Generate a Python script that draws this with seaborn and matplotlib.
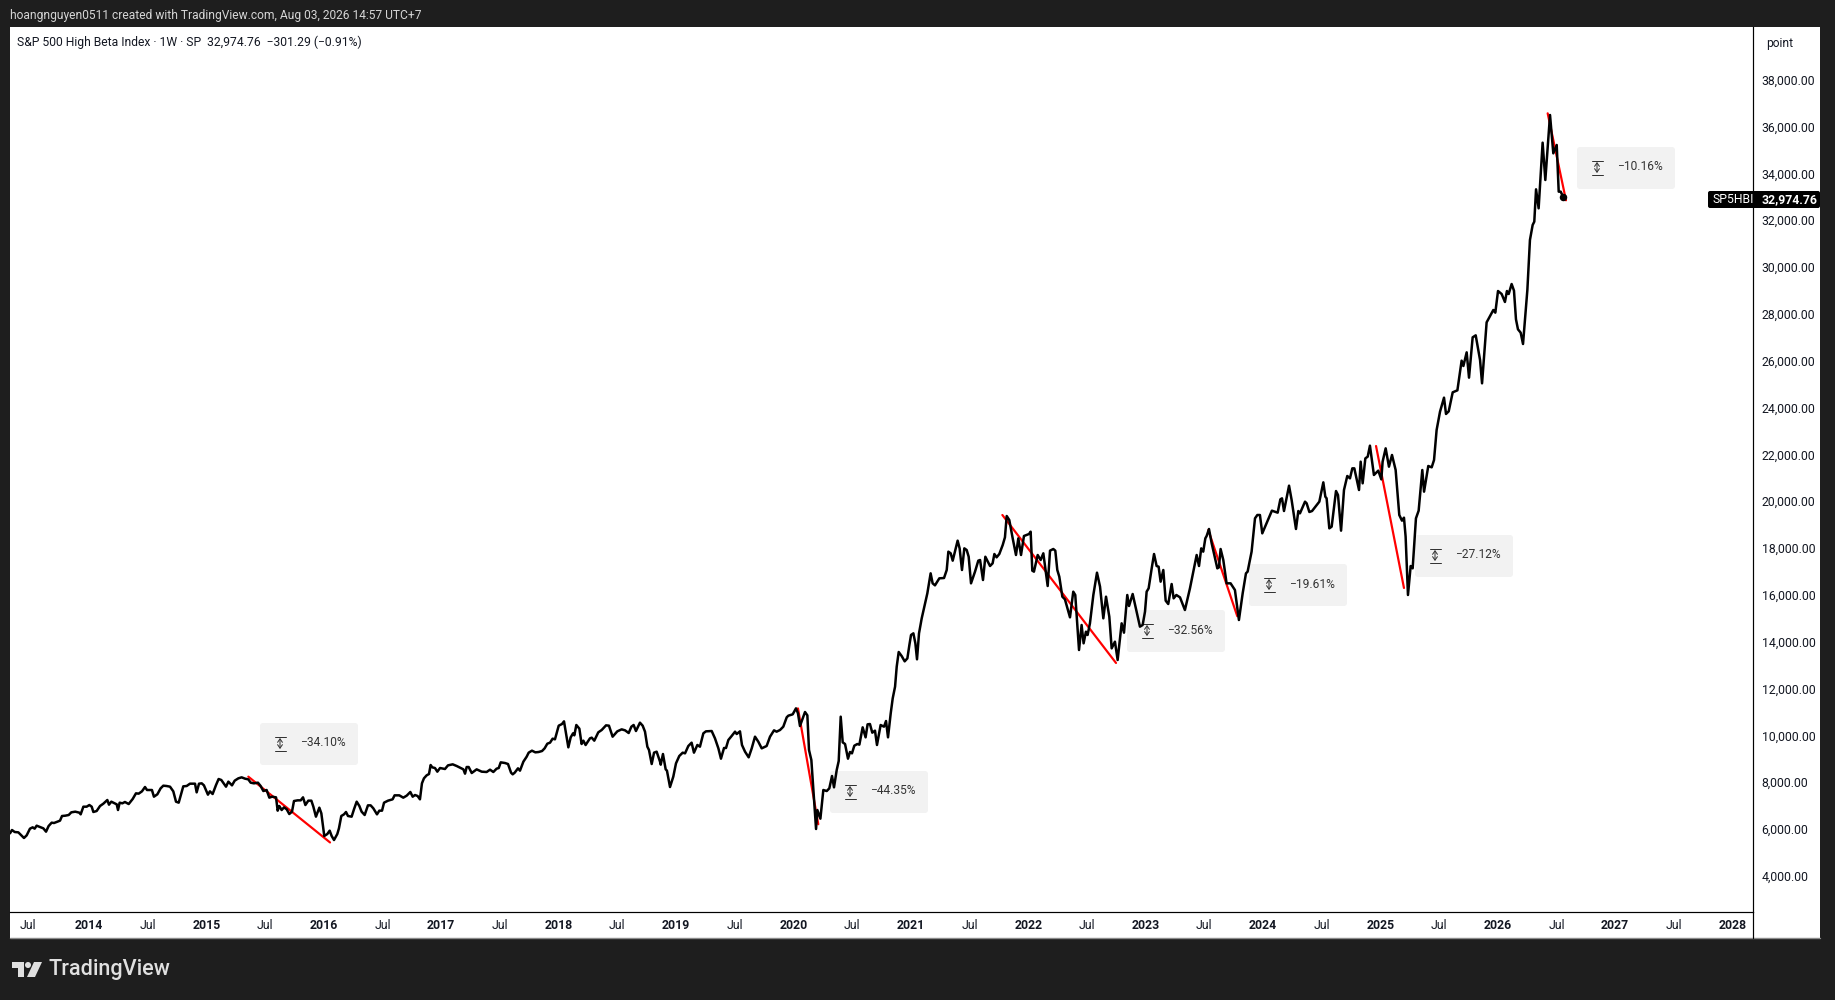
import matplotlib
matplotlib.use("Agg")
import matplotlib.pyplot as plt
from matplotlib.patches import FancyBboxPatch, Rectangle, Polygon, Circle
from matplotlib.lines import Line2D
from matplotlib.transforms import Affine2D
import pandas as pd
import seaborn as sns

# ---------- data ----------
year_2013_14 = [2013.327,2013.344,2013.367,2013.398,2013.424,2013.446,2013.469,2013.497,2013.520,2013.537,2013.554,2013.583,2013.611,2013.634,2013.656,2013.682,2013.702,2013.725,2013.753,2013.770,2013.798,2013.827,2013.849,2013.883,2013.918,2013.929,2013.952,2013.980,2014.003,2014.023,2014.037,2014.065,2014.094,2014.122,2014.156,2014.170,2014.190,2014.218,2014.236,2014.247,2014.261,2014.284,2014.306,2014.338,2014.372,2014.400,2014.423,2014.451,2014.477,2014.494,2014.536,2014.553,2014.582,2014.610,2014.633,2014.661,2014.690,2014.718,2014.741,2014.764,2014.786,2014.803,2014.832,2014.860,2014.903,2014.917,2014.937,2014.960,2014.979]
close_2013_14 = [5816,5958,5873,5858,5730,5617,5730,6015,6072,6015,6143,6086,6029,5887,6129,6271,6257,6300,6357,6556,6570,6599,6712,6741,6698,6627,6954,6954,7025,6954,6727,6769,6983,7082,7239,7040,7168,7097,7054,6812,7125,7097,7154,7068,7282,7524,7510,7609,7794,7666,7666,7381,7481,7737,7851,7837,7808,7609,7168,7125,7524,7823,7837,7936,7936,7566,7936,7951,7865]

year_2015_16 = [2015.013,2015.030,2015.053,2015.082,2015.104,2015.127,2015.167,2015.187,2015.218,2015.241,2015.272,2015.300,2015.329,2015.357,2015.377,2015.405,2015.439,2015.462,2015.485,2015.513,2015.536,2015.559,2015.593,2015.607,2015.621,2015.641,2015.661,2015.684,2015.706,2015.729,2015.746,2015.777,2015.803,2015.823,2015.843,2015.868,2015.894,2015.911,2015.933,2015.962,2015.979,2016.004,2016.030,2016.050,2016.067,2016.087,2016.115,2016.129,2016.149,2016.172,2016.189,2016.206,2016.237,2016.257,2016.280,2016.303,2016.322,2016.348,2016.376,2016.399,2016.422,2016.453,2016.473,2016.496,2016.513,2016.547,2016.586,2016.603,2016.643,2016.677,2016.706,2016.737,2016.757,2016.777,2016.799,2016.819,2016.836,2016.853,2016.876,2016.896,2016.910,2016.924,2016.947,2016.967,2016.990]
close_2015_16 = [7467,7609,7495,7880,8136,8093,7808,8022,7865,8065,8164,8207,8150,8121,7979,7951,7979,7837,7623,7666,7339,7381,7353,6784,6983,6812,6926,6841,6641,6741,7196,7225,7225,7353,7025,7211,7211,6954,6527,6912,6670,5702,5787,5930,5702,5531,5787,6029,6556,6627,6727,6556,6527,6841,7168,6983,6741,6599,7011,7011,6883,6627,6784,6784,7125,7211,7268,7438,7438,7339,7424,7581,7381,7452,7410,7268,7951,8164,8292,8349,8733,8634,8605,8449,8605]

year_2017_18 = [2017.032,2017.058,2017.098,2017.132,2017.160,2017.189,2017.203,2017.217,2017.234,2017.260,2017.302,2017.345,2017.387,2017.416,2017.444,2017.472,2017.490,2017.507,2017.543,2017.569,2017.595,2017.609,2017.626,2017.654,2017.671,2017.700,2017.728,2017.745,2017.773,2017.802,2017.830,2017.859,2017.881,2017.904,2017.927,2017.949,2017.969,2018.001,2018.029,2018.046,2018.063,2018.083,2018.103,2018.123,2018.134,2018.151,2018.177,2018.196,2018.211,2018.230,2018.267,2018.282,2018.304,2018.338,2018.367,2018.404,2018.429,2018.460,2018.500,2018.537,2018.566,2018.597,2018.620,2018.639,2018.659,2018.693,2018.716,2018.736,2018.756,2018.770,2018.793,2018.813,2018.835,2018.864,2018.870,2018.889,2018.912,2018.923,2018.949,2018.977]
close_2017_18 = [8563,8719,8762,8691,8620,8548,8363,8648,8648,8392,8548,8449,8435,8534,8435,8577,8605,8847,8819,8776,8406,8335,8406,8591,8492,8876,9089,9260,9346,9274,9289,9331,9445,9644,9687,9858,9830,10413,10484,10598,10086,9488,9915,10086,10000,10442,10285,9630,9773,9587,9872,9901,9773,10128,10228,10427,10413,9943,10171,10256,10214,10100,10370,10442,10185,10541,10413,10157,9516,9374,8776,9260,9303,8876,8748,9203,8549,8492,7794,8236]

year_2019_20 = [2019.000,2019.028,2019.057,2019.077,2019.105,2019.133,2019.153,2019.182,2019.204,2019.233,2019.255,2019.304,2019.332,2019.361,2019.383,2019.409,2019.426,2019.446,2019.474,2019.503,2019.517,2019.545,2019.562,2019.588,2019.619,2019.645,2019.673,2019.701,2019.730,2019.772,2019.801,2019.835,2019.857,2019.886,2019.914,2019.943,2019.957,2019.994,2020.022,2020.039,2020.056,2020.079,2020.099,2020.119,2020.133,2020.153,2020.170,2020.193,2020.204,2020.230,2020.255,2020.284,2020.306,2020.329,2020.346,2020.369,2020.386,2020.403,2020.420,2020.440,2020.465,2020.482,2020.499,2020.519,2020.545,2020.562,2020.590,2020.615,2020.632,2020.652,2020.672,2020.695,2020.712,2020.743,2020.772,2020.789,2020.806,2020.829,2020.846,2020.866,2020.880,2020.897,2020.922,2020.948,2020.971,2020.988]
close_2019_20 = [8805,9118,9260,9232,9545,9687,9260,9588,9516,10086,10171,10185,9872,9445,9004,9460,9460,9801,9972,10157,10057,10171,9588,9303,9061,9445,9943,9730,9445,9545,9943,10214,10157,10228,10370,10769,10840,10897,11153,10940,10399,10726,10997,10854,9374,8947,7666,6001,6812,6442,7666,7623,7737,8264,7780,8520,8904,10797,9701,9630,9004,9289,9232,9559,9630,9602,10342,9915,10470,10484,10114,10200,9588,10441,10370,10612,9915,10940,11580,12078,12932,13559,13388,13160,13288,13858]

year_2021_22 = [2021.002,2021.022,2021.039,2021.053,2021.070,2021.093,2021.115,2021.141,2021.169,2021.186,2021.206,2021.243,2021.283,2021.306,2021.320,2021.340,2021.357,2021.399,2021.416,2021.436,2021.456,2021.476,2021.493,2021.513,2021.547,2021.575,2021.590,2021.615,2021.635,2021.675,2021.697,2021.712,2021.731,2021.754,2021.783,2021.802,2021.817,2021.839,2021.868,2021.896,2021.916,2021.939,2021.964,2022.007,2022.021,2022.035,2022.049,2022.081,2022.106,2022.129,2022.166,2022.186,2022.214,2022.231,2022.248,2022.265,2022.291,2022.313,2022.356,2022.384,2022.401,2022.433,2022.455,2022.472,2022.492,2022.506,2022.526,2022.555,2022.586,2022.612,2022.640,2022.663,2022.691,2022.711,2022.739,2022.762,2022.796,2022.816,2022.844,2022.859,2022.890,2022.924,2022.952,2022.975,2022.995]
close_2021_22 = [14285,14356,13929,13246,14356,14996,15494,16064,16918,16491,16405,16704,16718,17060,17843,17772,17459,18313,17985,17060,17985,17914,17629,16491,16989,17459,17487,16633,17627,17231,17345,17743,17601,17743,18128,18455,19366,19195,18412,17701,18412,17701,18512,18597,18697,17032,16989,17701,17487,17772,16377,17886,17957,17886,17060,16775,15921,15808,15039,16135,15993,13644,14712,13929,14427,14285,14783,15993,16946,16348,14996,15921,15067,13715,14000,13217,14783,14384,15993,15523,16035,15281,14641,14712,15281]

year_2023_24 = [2023.009,2023.026,2023.052,2023.072,2023.094,2023.111,2023.128,2023.151,2023.171,2023.193,2023.222,2023.239,2023.262,2023.293,2023.335,2023.378,2023.435,2023.455,2023.474,2023.491,2023.509,2023.520,2023.540,2023.563,2023.611,2023.625,2023.639,2023.662,2023.690,2023.724,2023.761,2023.795,2023.827,2023.855,2023.869,2023.903,2023.932,2023.952,2023.974,2023.994,2024.076,2024.125,2024.148,2024.162,2024.179,2024.222,2024.244,2024.281,2024.301,2024.315,2024.358,2024.372,2024.395,2024.418,2024.480,2024.514,2024.531,2024.542,2024.565,2024.585,2024.622,2024.639,2024.665,2024.690,2024.718,2024.741,2024.761,2024.778,2024.818,2024.832,2024.849,2024.872,2024.892,2024.911,2024.945,2024.982]
close_2023_24 = [16135,16277,17131,17743,17231,17202,16562,17060,15751,15608,16462,15850,15993,15893,15352,16277,17701,17231,17985,17843,18412,18512,18811,18199,17131,17174,17957,17487,16491,16491,16206,14925,16064,16918,16989,17843,19266,19409,19409,18626,19594,19508,20078,20120,19579,20661,20049,18811,19579,19480,19978,19907,19537,19579,19978,20803,20191,20120,18839,18910,20433,20262,18740,20476,21074,20974,21401,21401,20476,21686,20761,21828,21899,22369,21117,21302]

year_2025_26 = [2025.008,2025.019,2025.045,2025.073,2025.099,2025.130,2025.161,2025.184,2025.201,2025.215,2025.235,2025.258,2025.275,2025.303,2025.326,2025.357,2025.372,2025.408,2025.437,2025.457,2025.479,2025.508,2025.542,2025.559,2025.582,2025.616,2025.656,2025.692,2025.707,2025.735,2025.755,2025.786,2025.812,2025.849,2025.866,2025.905,2025.962,2025.979,2026.002,2026.033,2026.061,2026.078,2026.093,2026.118,2026.138,2026.155,2026.172,2026.195,2026.215,2026.252,2026.274,2026.297,2026.311,2026.326,2026.348,2026.382,2026.405,2026.445,2026.473,2026.502,2026.519,2026.536,2026.558]
close_2025_26 = [20931,21686,22255,21472,21971,21330,19409,19167,19295,18483,15993,17231,17131,19266,19594,21330,20405,21501,21444,21757,23038,23821,24419,23722,23835,24647,24732,25999,25771,26354,25273,26995,27080,26027,25031,27635,28162,28048,28973,28845,28504,28973,28845,29272,28988,27764,27337,27194,26710,29016,31151,31792,31934,33315,32503,35307,33713,36489,34852,35208,33215,33215,32974.76]

drawdown_labels = ["−34.10%", "−44.35%", "−32.56%", "−19.61%", "−27.12%", "−10.16%"]
drawdown_year_start = [2015.357, 2020.039, 2021.780, 2023.534, 2024.963, 2026.425]
drawdown_year_end = [2016.053, 2020.212, 2022.748, 2023.781, 2025.201, 2026.581]
drawdown_value_start = [8236, 11150, 19409, 18768, 22355, 36560]
drawdown_value_end = [5427, 6205, 13090, 15087, 16292, 32846]

year_ticks = list(range(2014, 2029))
jul_ticks = [2013.48] + [y + 0.5 for y in range(2014, 2028)]
price_ticks = list(range(4000, 40000, 2000))
last_price = 32974.76

# ---------- layout (pixels of the output image) ----------
W, H = 1835, 1000
L, R, T, B = 10, 1753, 27, 912
PANEL_R, PANEL_B = 1820, 938
DARK = "#1e1e1e"
FONT = "Roboto"
px = 1 / 100 * 72  # pt per image px at dpi 100

sns.set_theme(style="white")
plt.rcParams["font.family"] = [FONT, "DejaVu Sans"]

fig = plt.figure(figsize=(W / 100, H / 100), dpi=100, facecolor=DARK)
ax = fig.add_axes([L / W, 1 - B / H, (R - L) / W, (B - T) / H])
ax.patch.set_visible(False)
pix = Affine2D().scale(1, -1).translate(0, H)

# white panel behind everything
fig.add_artist(Rectangle((L, T), PANEL_R - L, PANEL_B - T, transform=pix, facecolor="white",
                         edgecolor="none", zorder=-5))
fig.add_artist(Line2D([L, PANEL_R], [PANEL_B, PANEL_B], transform=pix, color="#8a8a8a", lw=1.4 * px, zorder=-4))
fig.add_artist(Line2D([R, R], [B, PANEL_B], transform=pix, color="black", lw=1.2 * px))

# series
df = pd.DataFrame({
    "year": year_2013_14 + year_2015_16 + year_2017_18 + year_2019_20 + year_2021_22 + year_2023_24 + year_2025_26,
    "close": close_2013_14 + close_2015_16 + close_2017_18 + close_2019_20 + close_2021_22 + close_2023_24 + close_2025_26,
})
for i in range(len(drawdown_labels)):
    dd = pd.DataFrame({"year": [drawdown_year_start[i], drawdown_year_end[i]],
                       "value": [drawdown_value_start[i], drawdown_value_end[i]]})
    sns.lineplot(data=dd, x="year", y="value", ax=ax, color="#ff0000", lw=2.2 * px, zorder=2,
                 errorbar=None, sort=False, legend=False)
sns.lineplot(data=df, x="year", y="close", ax=ax, color="black", lw=2.5 * px, zorder=3,
             errorbar=None, sort=False, legend=False, solid_joinstyle="round")
sns.scatterplot(x=df["year"].iloc[-1:], y=df["close"].iloc[-1:], ax=ax, color="black", s=(7.5 * px) ** 2,
                zorder=4, linewidth=0, legend=False)

ax.set_xlim(2013.327, 2028.174)
ax.set_ylim(2457, 40246)
ax.set_xlabel("")
ax.set_ylabel("")

for s in ["top", "left"]:
    ax.spines[s].set_visible(False)
for s in ["bottom", "right"]:
    ax.spines[s].set_visible(True)
    ax.spines[s].set_color("black")
    ax.spines[s].set_linewidth(1.2 * px)

ax.yaxis.tick_right()
ax.set_yticks(price_ticks)
ax.set_yticklabels([f"{p:,.2f}" for p in price_ticks], va="center_baseline")
ax.tick_params(axis="y", length=0, pad=8.5 * px, labelsize=12.2 * px, labelcolor="#131722")
ax.set_xticks(year_ticks + jul_ticks)
ax.set_xticklabels([str(y) for y in year_ticks] + ["Jul"] * len(jul_ticks))
ax.tick_params(axis="x", length=0, pad=7 * px, labelsize=12.2 * px, labelcolor="#131722")
for lab in ax.get_xticklabels():
    if lab.get_text() != "Jul":
        lab.set_fontweight("bold")
ax.grid(False)

# drawdown info boxes (pixel layout)
box_left = [260, 830, 1127, 1249, 1415, 1577]
box_top = [723, 771, 610, 564, 535, 147]
for lab, x0, y0 in zip(drawdown_labels, box_left, box_top):
    w, h = 98, 42
    ax.add_patch(FancyBboxPatch((x0, y0), w, h, boxstyle="round,pad=0,rounding_size=3", transform=pix,
                                facecolor="#f2f2f2", edgecolor="none", zorder=1, clip_on=False))
    cx, cy = x0 + 20, y0 + 20.5
    for dy in (-7, 7):
        ax.add_line(Line2D([cx - 5.5, cx + 5.5], [cy + dy, cy + dy], transform=pix, color="#333333",
                           lw=1 * px, zorder=1.5))
    ax.annotate("", xy=(cx, cy - 5.5), xytext=(cx, cy + 5.5), xycoords=pix, textcoords=pix, zorder=1.5,
                arrowprops=dict(arrowstyle="<->,head_length=0.5,head_width=0.35", color="#333333", lw=1 * px,
                                mutation_scale=5, shrinkA=0, shrinkB=0))
    ax.text(x0 + 63, cy - 0.5, lab, transform=pix, ha="center", va="center", fontsize=12 * px,
            color="#333333", zorder=1.5)

# header, legend, axis unit
fig.text(10 / W, 1 - 15 / H, "hoangnguyen0511 created with TradingView.com, Aug 03, 2026 14:57 UTC+7",
         ha="left", va="center", fontsize=12 * px, color="#d6d6d6")
fig.text(17 / W, 1 - 42 / H, "S&P 500 High Beta Index · 1W · SP  32,974.76  −301.29 (−0.91%)",
         ha="left", va="center", fontsize=12.1 * px, color="#131722")
fig.text(1780 / W, 1 - 43 / H, "point", ha="center", va="center", fontsize=12 * px, color="#131722")

# last-price tag
fig.add_artist(FancyBboxPatch((1708, 191), 112, 17, boxstyle="round,pad=0,rounding_size=2", transform=pix,
                              facecolor="black", edgecolor="none", zorder=6))
tag = dict(ha="left", va="center", fontsize=12.2 * px, color="white", zorder=7)
fig.text(1712 / W, 1 - 199.5 / H, "SP5HBI", **tag)
fig.text(1762 / W, 1 - 199.5 / H, f"{last_price:,.2f}", fontweight="bold", **tag)

# TradingView mark
mark = "#e0e0e0"
fig.add_artist(Polygon([(12, 962), (24, 962), (24, 977), (18, 977), (18, 968), (12, 968)], closed=True,
                       transform=pix, facecolor=mark, edgecolor="none"))
fig.add_artist(Circle((28, 965), 3, transform=pix, facecolor=mark, edgecolor="none"))
fig.add_artist(Polygon([(34, 962), (42, 962), (35, 977), (27, 977)], closed=True,
                       transform=pix, facecolor=mark, edgecolor="none"))
fig.text(48 / W, 1 - 970 / H, "TradingView", ha="left", va="center", fontsize=21.6 * px, color=mark, fontweight="medium")

fig.savefig("out.png", dpi=100, facecolor=DARK)
